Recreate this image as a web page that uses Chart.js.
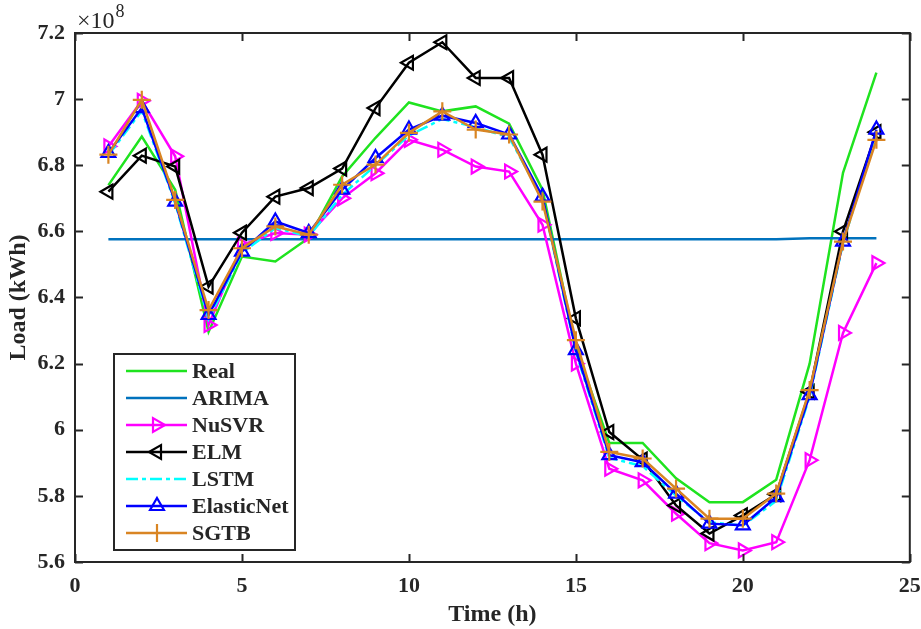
<!DOCTYPE html>
<html>
<head>
<meta charset="utf-8">
<script src="https://cdn.jsdelivr.net/npm/chart.js@4.4.0/dist/chart.umd.min.js"></script>
<style>
  html, body { margin: 0; padding: 0; background: #ffffff; }
  #wrap { width: 921px; height: 629px; }
</style>
</head>
<body>
<div id="wrap"><canvas id="c" width="921" height="629"></canvas></div>
<script>
// ---- data (load in units of 1e8 kWh) ----
const hours = [1,2,3,4,5,6,7,8,9,10,11,12,13,14,15,16,17,18,19,20,21,22,23,24];
const seriesNames = ['Real','ARIMA','NuSVR','ELM','LSTM','ElasticNet','SGTB'];
const realLoad   = [6.74,6.887,6.726,6.296,6.524,6.509,6.58,6.766,6.883,6.99,6.963,6.978,6.926,6.726,6.25,5.96,5.96,5.853,5.781,5.781,5.849,6.20,6.777,7.08];
const arimaLoad  = [6.576,6.576,6.576,6.576,6.576,6.576,6.576,6.576,6.576,6.576,6.576,6.576,6.576,6.576,6.576,6.576,6.576,6.576,6.576,6.576,6.576,6.579,6.579,6.579];
const nusvrLoad  = [6.857,6.995,6.827,6.317,6.559,6.595,6.59,6.70,6.776,6.877,6.847,6.796,6.781,6.62,6.20,5.882,5.847,5.746,5.657,5.635,5.66,5.908,6.293,6.504];
const elmLoad    = [6.72,6.829,6.796,6.433,6.596,6.705,6.731,6.79,6.973,7.11,7.172,7.064,7.064,6.832,6.337,5.993,5.91,5.771,5.686,5.741,5.805,6.115,6.60,6.90];
const lstmLoad   = [6.83,6.965,6.685,6.335,6.535,6.61,6.585,6.71,6.80,6.89,6.94,6.915,6.885,6.70,6.235,5.915,5.89,5.80,5.72,5.71,5.785,6.10,6.565,6.895];
const elasticLoad= [6.837,6.973,6.69,6.347,6.539,6.63,6.595,6.726,6.822,6.908,6.95,6.928,6.893,6.705,6.241,5.923,5.902,5.807,5.716,5.711,5.796,6.105,6.569,6.908];
const sgtbLoad   = [6.832,6.998,6.695,6.362,6.549,6.615,6.59,6.741,6.802,6.898,6.963,6.908,6.893,6.69,6.271,5.933,5.913,5.822,5.731,5.731,5.807,6.12,6.569,6.877];
const xTickValues = [0,5,10,15,20,25];
const yTickValues = [5.6,5.8,6.0,6.2,6.4,6.6,6.8,7.0,7.2];
const exponentLabel = ['\u00d710','8'];

const colors = ['#1FE31F','#0072BD','#FF00FF','#000000','#00FFFF','#0000FF','#D98523'];
const markers = [false,false,{s:'triangle',r:90},{s:'triangle',r:-90},false,{s:'triangle',r:0},{s:'cross',r:0}];
const dashes = [[],[],[],[],[12,4,4,4],[],[]];
const allSeries = [realLoad,arimaLoad,nusvrLoad,elmLoad,lstmLoad,elasticLoad,sgtbLoad];

const datasets = allSeries.map((vals, i) => ({
  label: seriesNames[i],
  data: hours.map((h, k) => ({x: h, y: vals[k]})),
  borderColor: colors[i],
  backgroundColor: 'rgba(0,0,0,0)',
  borderWidth: 2.5,
  borderDash: dashes[i],
  pointStyle: markers[i] ? markers[i].s : false,
  rotation: markers[i] ? markers[i].r : 0,
  pointRadius: markers[i] ? (markers[i].s === 'cross' ? 9 : 8) : 0,
  pointBorderWidth: 2.2,
  pointBorderColor: colors[i],
  pointBackgroundColor: 'rgba(0,0,0,0)',
  tension: 0,
  order: 6 - i
}));

const axisColor = '#262626';
const FONT = '"Liberation Serif", "Times New Roman", serif';

const framePlugin = {
  id: 'frame',
  afterDraw(chart) {
    const {ctx, chartArea: a, scales} = chart;
    ctx.save();
    ctx.strokeStyle = axisColor;
    ctx.lineWidth = 2;
    // inward ticks
    const tl = 8;
    ctx.beginPath();
    xTickValues.forEach(v => {
      const px = Math.round(scales.x.getPixelForValue(v)) + 0.5;
      ctx.moveTo(px, a.bottom); ctx.lineTo(px, a.bottom - tl);
      ctx.moveTo(px, a.top); ctx.lineTo(px, a.top + tl);
    });
    yTickValues.forEach(v => {
      const py = Math.round(scales.y.getPixelForValue(v)) + 0.5;
      ctx.moveTo(a.left, py); ctx.lineTo(a.left + tl, py);
      ctx.moveTo(a.right, py); ctx.lineTo(a.right - tl, py);
    });
    ctx.stroke();
    // box
    ctx.strokeRect(a.left, a.top, a.right - a.left, a.bottom - a.top);
    // exponent label
    ctx.fillStyle = axisColor;
    ctx.textBaseline = 'alphabetic';
    ctx.textAlign = 'left';
    ctx.font = '24px ' + FONT;
    ctx.fillText(exponentLabel[0], 77, 28);
    const w = ctx.measureText(exponentLabel[0]).width;
    ctx.font = '18px ' + FONT;
    ctx.fillText(exponentLabel[1], 77 + w + 1, 17);

    // legend
    const lx = 114, ly = 354, lw = 181, lh = 196;
    ctx.fillStyle = '#ffffff';
    ctx.fillRect(lx, ly, lw, lh);
    ctx.strokeStyle = axisColor;
    ctx.lineWidth = 2;
    ctx.strokeRect(lx, ly, lw, lh);
    chart.data.datasets.forEach((ds, i) => {
      const cy = 371 + i * 27;
      ctx.save();
      ctx.strokeStyle = ds.borderColor;
      ctx.lineWidth = 2.5;
      ctx.setLineDash(ds.borderDash || []);
      ctx.beginPath();
      ctx.moveTo(126, cy); ctx.lineTo(187, cy);
      ctx.stroke();
      ctx.restore();
      if (ds.pointStyle) {
        ctx.save();
        ctx.strokeStyle = ds.borderColor;
        ctx.fillStyle = 'rgba(0,0,0,0)';
        ctx.lineWidth = 2.2;
        Chart.helpers.drawPoint(ctx, {pointStyle: ds.pointStyle, rotation: ds.rotation, radius: ds.pointRadius, borderWidth: 2.2}, 157, cy);
        ctx.restore();
      }
      ctx.fillStyle = axisColor;
      ctx.font = 'bold 22px ' + FONT;
      ctx.textBaseline = 'middle';
      ctx.textAlign = 'left';
      ctx.fillText(ds.label, 192, cy + 1);
    });
    ctx.restore();
  }
};

new Chart(document.getElementById('c'), {
  type: 'line',
  data: { datasets },
  options: {
    responsive: false,
    animation: false,
    devicePixelRatio: 1,
    layout: { padding: { top: 33, right: 11, left: 0, bottom: 0 } },
    plugins: { legend: { display: false }, tooltip: { enabled: false } },
    scales: {
      x: {
        type: 'linear', min: 0, max: 25,
        grid: { display: false, drawTicks: false },
        border: { display: false },
        afterBuildTicks(s) { s.ticks = xTickValues.map(v => ({value: v})); },
        afterFit(s) { s.height = 67; s.paddingLeft = 0; s.paddingRight = 0; },
        ticks: { color: axisColor, font: { family: FONT, size: 22, weight: 'bold' }, padding: 11, maxRotation: 0 },
        title: { display: true, text: 'Time (h)', color: axisColor, font: { family: FONT, size: 24, weight: 'bold', lineHeight: 1.2 }, padding: { top: 0, bottom: 0 } }
      },
      y: {
        type: 'linear', min: 5.6, max: 7.2,
        grid: { display: false, drawTicks: false },
        border: { display: false },
        afterBuildTicks(s) { s.ticks = yTickValues.map(v => ({value: v})); },
        afterFit(s) { s.width = 75; s.paddingTop = 0; s.paddingBottom = 0; },
        ticks: { color: axisColor, font: { family: FONT, size: 22, weight: 'bold' }, padding: 10,
          callback: v => String(parseFloat(Number(v).toFixed(1))) },
        title: { display: true, text: 'Load (kWh)', color: axisColor, font: { family: FONT, size: 24, weight: 'bold', lineHeight: 1.2 }, padding: { top: 4, bottom: 0 } }
      }
    }
  },
  plugins: [framePlugin]
});
</script>
</body>
</html>
